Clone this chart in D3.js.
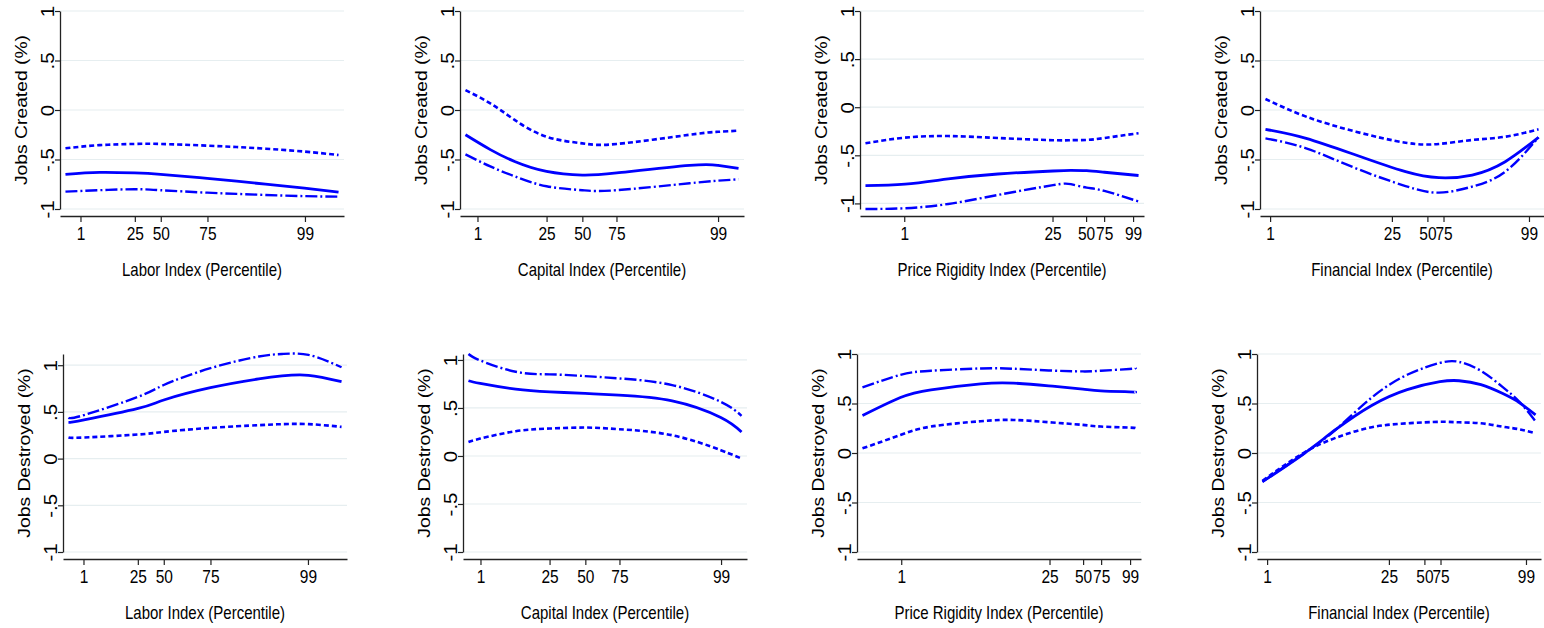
<!DOCTYPE html>
<html>
<head>
<meta charset="utf-8">
<script src="https://cdn.jsdelivr.net/npm/d3@7"></script>
<style>
body { margin: 0; background: #fff; }
svg text { font-family: "Liberation Sans", Arial, Helvetica, sans-serif; fill: #000; }
</style>
</head>
<body>
<svg width="1544" height="628"></svg>
<script>
// percentile tick labels, placed at the index value of each percentile
var percentileLabels = [1, 25, 50, 75, 99];
var laborTickPos = [0.055, 0.254, 0.349, 0.52, 0.877];
var capitalTickPos = [0.044, 0.297, 0.428, 0.553, 0.925];
var priceTickPos = [0.142, 0.685, 0.808, 0.874, 0.98];
var financialTickPos = [0.017, 0.463, 0.593, 0.652, 0.965];

var yTickValues = [-1, -0.5, 0, 0.5, 1];

// Jobs created: fitted line, dashed bound, dash-dot bound (index scaled 0-1)
var laborCreatedX = [0, 0.125, 0.253, 0.348, 0.519, 0.70, 0.875, 1];
var laborCreatedFit = [-0.65, -0.63, -0.636, -0.65, -0.69, -0.74, -0.79, -0.83];
var laborCreatedDash = [-0.387, -0.355, -0.343, -0.343, -0.36, -0.385, -0.42, -0.455];
var laborCreatedDashDot = [-0.825, -0.81, -0.80, -0.81, -0.835, -0.855, -0.87, -0.875];

var capitalCreatedX = [0, 0.091, 0.18, 0.297, 0.428, 0.554, 0.821, 0.925, 1];
var capitalCreatedFit = [-0.25, -0.40, -0.52, -0.62, -0.657, -0.635, -0.56, -0.56, -0.59];
var capitalCreatedDash = [0.20, 0.067, -0.10, -0.27, -0.337, -0.343, -0.25, -0.22, -0.209];
var capitalCreatedDashDot = [-0.448, -0.57, -0.67, -0.77, -0.81, -0.81, -0.74, -0.714, -0.70];

var priceCreatedX = [0, 0.145, 0.303, 0.485, 0.687, 0.752, 0.810, 0.875, 1];
var priceCreatedFit = [-0.815, -0.80, -0.746, -0.694, -0.663, -0.657, -0.66, -0.676, -0.71];
var priceCreatedDash = [-0.375, -0.316, -0.30, -0.32, -0.343, -0.343, -0.34, -0.32, -0.27];
var priceCreatedDashDot = [-1.058, -1.05, -1.006, -0.912, -0.81, -0.80, -0.836, -0.87, -0.98];

var financialCreatedX = [0, 0.149, 0.331, 0.513, 0.635, 0.757, 0.878, 1];
var financialCreatedFit = [-0.195, -0.286, -0.455, -0.623, -0.684, -0.657, -0.522, -0.276];
var financialCreatedDash = [0.111, -0.067, -0.219, -0.33, -0.343, -0.303, -0.27, -0.195];
var financialCreatedDashDot = [-0.286, -0.387, -0.589, -0.768, -0.835, -0.774, -0.623, -0.276];

// Jobs destroyed
var laborDestroyedX = [0, 0.057, 0.255, 0.349, 0.52, 0.697, 0.782, 0.879, 1];
var laborDestroyedFit = [0.387, 0.415, 0.537, 0.627, 0.759, 0.853, 0.885, 0.892, 0.824];
var laborDestroyedDash = [0.226, 0.226, 0.258, 0.286, 0.329, 0.358, 0.369, 0.369, 0.34];
var laborDestroyedDashDot = [0.437, 0.466, 0.662, 0.788, 0.968, 1.093, 1.12, 1.11, 0.978];

var capitalDestroyedX = [0, 0.043, 0.173, 0.298, 0.427, 0.551, 0.746, 0.924, 1];
var capitalDestroyedFit = [0.783, 0.755, 0.696, 0.668, 0.651, 0.634, 0.574, 0.401, 0.25];
var capitalDestroyedDash = [0.146, 0.181, 0.258, 0.286, 0.296, 0.279, 0.216, 0.06, -0.027];
var capitalDestroyedDashDot = [1.062, 0.995, 0.877, 0.85, 0.832, 0.808, 0.738, 0.564, 0.418];

var priceDestroyedX = [0, 0.139, 0.251, 0.433, 0.553, 0.682, 0.807, 0.873, 0.977, 1];
var priceDestroyedFit = [0.378, 0.56, 0.638, 0.699, 0.706, 0.679, 0.645, 0.628, 0.618, 0.615];
var priceDestroyedDash = [0.047, 0.182, 0.267, 0.321, 0.334, 0.311, 0.284, 0.267, 0.257, 0.25];
var priceDestroyedDashDot = [0.662, 0.79, 0.831, 0.854, 0.851, 0.834, 0.824, 0.831, 0.848, 0.858];

var financialDestroyedX = [0, 0.15, 0.27, 0.40, 0.53, 0.65, 0.72, 0.80, 0.88, 0.94, 1];
var financialDestroyedFit = [-0.29, -0.01, 0.24, 0.48, 0.64, 0.72, 0.73, 0.69, 0.60, 0.51, 0.385];
var financialDestroyedDash = [-0.28, 0.0, 0.155, 0.26, 0.30, 0.315, 0.31, 0.30, 0.265, 0.24, 0.20];
var financialDestroyedDashDot = [-0.29, -0.01, 0.24, 0.56, 0.79, 0.91, 0.92, 0.83, 0.665, 0.52, 0.32];

var panels = [
    { row: 0, col: 0, xTitle: 'Labor Index (Percentile)', yTitle: 'Jobs Created (%)', ticks: laborTickPos,
      x: laborCreatedX, fit: laborCreatedFit, dash: laborCreatedDash, dashDot: laborCreatedDashDot },
    { row: 0, col: 1, xTitle: 'Capital Index (Percentile)', yTitle: 'Jobs Created (%)', ticks: capitalTickPos,
      x: capitalCreatedX, fit: capitalCreatedFit, dash: capitalCreatedDash, dashDot: capitalCreatedDashDot },
    { row: 0, col: 2, xTitle: 'Price Rigidity Index (Percentile)', yTitle: 'Jobs Created (%)', ticks: priceTickPos,
      x: priceCreatedX, fit: priceCreatedFit, dash: priceCreatedDash, dashDot: priceCreatedDashDot },
    { row: 0, col: 3, xTitle: 'Financial Index (Percentile)', yTitle: 'Jobs Created (%)', ticks: financialTickPos,
      x: financialCreatedX, fit: financialCreatedFit, dash: financialCreatedDash, dashDot: financialCreatedDashDot },
    { row: 1, col: 0, xTitle: 'Labor Index (Percentile)', yTitle: 'Jobs Destroyed (%)', ticks: laborTickPos,
      x: laborDestroyedX, fit: laborDestroyedFit, dash: laborDestroyedDash, dashDot: laborDestroyedDashDot },
    { row: 1, col: 1, xTitle: 'Capital Index (Percentile)', yTitle: 'Jobs Destroyed (%)', ticks: capitalTickPos,
      x: capitalDestroyedX, fit: capitalDestroyedFit, dash: capitalDestroyedDash, dashDot: capitalDestroyedDashDot },
    { row: 1, col: 2, xTitle: 'Price Rigidity Index (Percentile)', yTitle: 'Jobs Destroyed (%)', ticks: priceTickPos,
      x: priceDestroyedX, fit: priceDestroyedFit, dash: priceDestroyedDash, dashDot: priceDestroyedDashDot },
    { row: 1, col: 3, xTitle: 'Financial Index (Percentile)', yTitle: 'Jobs Destroyed (%)', ticks: financialTickPos,
      x: financialDestroyedX, fit: financialDestroyedFit, dash: financialDestroyedDash, dashDot: financialDestroyedDashDot }
];

var svg = d3.select('svg');

// layout
var plotW = 284, plotH = 198;
var rowTop = [11, 354];
var panelLeft = [[60, 460, 860, 1260], [63, 463, 857, 1257]];
var xAxisGap = 7;
var stretch = 1.17; // text in the picture is taller than it is wide
var lineColor = '#0000ff';

function fmtY(d) {
    return d === 0 ? '0' : String(d).replace('0.', '.');
}

panels.forEach(function(p) {
    var g = svg.append('g')
        .attr('transform', 'translate(' + panelLeft[p.row][p.col] + ',' + rowTop[p.row] + ')');

    var allVals = p.fit.concat(p.dash, p.dashDot);
    var yMin = Math.min(-1, d3.min(allVals));
    var yMax = Math.max(1, d3.max(allVals));

    var x = d3.scaleLinear().domain([-0.02, 1.02]).range([0, plotW]);
    var y = d3.scaleLinear().domain([yMin, yMax]).range([plotH, 0]);

    // gridlines
    g.selectAll('.grid')
        .data(yTickValues)
        .enter().append('line')
        .attr('class', 'grid')
        .attr('x1', 0).attr('x2', plotW)
        .attr('y1', function(d) { return y(d); })
        .attr('y2', function(d) { return y(d); })
        .attr('stroke', '#e6eef0')
        .attr('stroke-width', 1.2);

    // y axis
    var yAxisG = g.append('g')
        .call(d3.axisLeft(y).tickValues(yTickValues).tickFormat(fmtY).tickSize(5).tickSizeOuter(0));
    yAxisG.select('.domain').attr('stroke', '#222').attr('stroke-width', 1.3);
    yAxisG.selectAll('.tick line').attr('stroke', '#222').attr('stroke-width', 1.2);
    yAxisG.selectAll('.tick text')
        .attr('x', null).attr('dy', null)
        .attr('text-anchor', 'middle')
        .attr('font-size', 17.5)
        .attr('transform', 'translate(-6.5,0) scale(1,' + stretch + ') rotate(-90)');

    // x axis
    var xAxisG = g.append('g')
        .attr('transform', 'translate(0,' + (plotH + xAxisGap) + ')')
        .call(d3.axisBottom(x).tickValues(p.ticks)
            .tickFormat(function(d, i) { return percentileLabels[i]; })
            .tickSize(6).tickSizeOuter(0));
    xAxisG.select('.domain').attr('stroke', '#222').attr('stroke-width', 1.3);
    xAxisG.selectAll('.tick line').attr('stroke', '#222').attr('stroke-width', 1.2);
    xAxisG.selectAll('.tick text')
        .attr('y', null).attr('dy', null)
        .attr('font-size', 15.5)
        .attr('transform', 'translate(0,23.5) scale(1,' + stretch + ')');

    // axis titles
    g.append('text')
        .attr('transform', 'translate(' + plotW / 2 + ',' + (plotH + xAxisGap + 60) + ') scale(1,' + stretch + ')')
        .attr('text-anchor', 'middle')
        .attr('font-size', 15)
        .text(p.xTitle);
    g.append('text')
        .attr('transform', 'translate(-33,' + plotH / 2 + ') scale(1,' + stretch + ') rotate(-90)')
        .attr('text-anchor', 'middle')
        .attr('font-size', 16.5)
        .text(p.yTitle);

    // curves
    var line = d3.line()
        .x(function(d) { return x(d[0]); })
        .y(function(d) { return y(d[1]); })
        .curve(d3.curveNatural);

    function pairs(vals) {
        return p.x.map(function(v, i) { return [v, vals[i]]; });
    }

    g.append('path')
        .datum(pairs(p.dash))
        .attr('d', line)
        .attr('fill', 'none')
        .attr('stroke', lineColor)
        .attr('stroke-width', 2.6)
        .attr('stroke-dasharray', '5,3');
    g.append('path')
        .datum(pairs(p.dashDot))
        .attr('d', line)
        .attr('fill', 'none')
        .attr('stroke', lineColor)
        .attr('stroke-width', 2.4)
        .attr('stroke-dasharray', '12,3,2,3');
    g.append('path')
        .datum(pairs(p.fit))
        .attr('d', line)
        .attr('fill', 'none')
        .attr('stroke', lineColor)
        .attr('stroke-width', 2.8);
});
</script>
</body>
</html>
